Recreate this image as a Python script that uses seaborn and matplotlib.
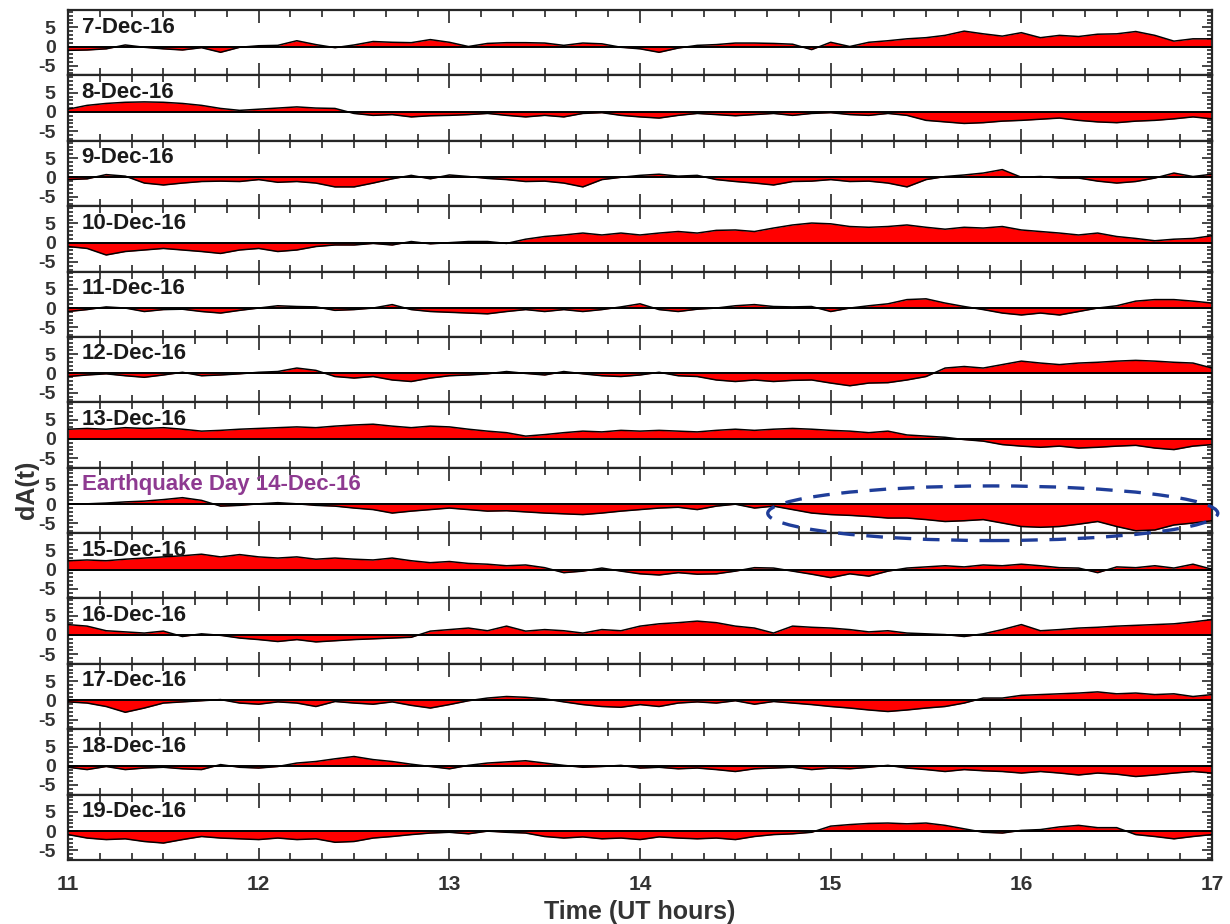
import numpy as np
import pandas as pd
import matplotlib
matplotlib.use("Agg")
import matplotlib.pyplot as plt
from matplotlib.ticker import MultipleLocator
from matplotlib.patches import Ellipse
import seaborn as sns

# ---------------- data (0.1 h sampling) ----------------
hours = np.linspace(11, 17, 61)

day_labels = ["7-Dec-16", "8-Dec-16", "9-Dec-16", "10-Dec-16", "11-Dec-16",
              "12-Dec-16", "13-Dec-16", "Earthquake Day 14-Dec-16", "15-Dec-16",
              "16-Dec-16", "17-Dec-16", "18-Dec-16", "19-Dec-16"]

dec07 = [-1.0, -0.9, -0.6, 0.4, -0.2, -0.6, -0.9, -0.3, -1.5, -0.2,
         0.2, 0.3, 1.5, 0.5, -0.3, 0.4, 1.3, 1.1, 1.0, 1.8,
         1.1, 0.0, 0.8, 1.0, 1.0, 0.9, 0.3, 0.9, 0.7, -0.2,
         -0.6, -1.5, -0.4, 0.3, 0.5, 0.9, 0.9, 0.8, 0.6, -0.8,
         1.1, 0.0, 1.1, 1.5, 2.0, 2.3, 2.9, 4.0, 3.3, 2.7,
         3.6, 2.3, 2.9, 2.6, 3.2, 3.3, 3.9, 2.9, 1.4, 2.0, 2.0]
dec08 = [0.7, 1.7, 2.2, 2.5, 2.6, 2.5, 2.2, 1.7, 0.9, 0.4,
         0.7, 1.0, 1.3, 1.0, 0.9, -0.4, -0.9, -0.7, -1.3, -1.0,
         -0.9, -0.7, -0.4, -0.9, -1.3, -0.9, -1.3, -0.4, -0.2, -0.9,
         -1.3, -1.6, -0.9, -0.4, -0.7, -1.0, -0.7, -0.4, -0.9, -0.4,
         -0.2, -0.7, -0.9, -0.4, -0.9, -2.2, -2.6, -3.0, -2.8, -2.4,
         -2.2, -1.9, -1.6, -2.2, -2.6, -2.8, -2.4, -2.2, -1.8, -1.3, -1.8]
dec09 = [-0.6, -0.4, 0.7, 0.3, -1.5, -2.0, -1.5, -1.1, -1.0, -1.1,
         -0.6, -1.3, -1.1, -1.5, -2.5, -2.5, -1.5, -0.4, 0.5, -0.4,
         0.6, 0.2, -0.3, -0.6, -1.1, -1.0, -1.5, -2.5, -0.6, 0.0,
         0.5, 0.8, 0.3, 0.5, -0.6, -1.1, -1.5, -2.0, -1.1, -1.0,
         -0.6, -1.1, -1.0, -1.5, -2.5, -0.6, 0.2, 0.6, 1.1, 2.0,
         0.0, 0.2, -0.2, -0.2, -1.0, -1.5, -1.1, -0.2, 1.1, 0.2, 0.8]
dec10 = [-1.0, -1.5, -3.2, -2.3, -1.9, -1.5, -1.9, -2.3, -2.8, -1.9,
         -1.5, -2.3, -1.9, -1.0, -0.6, -0.6, -0.2, -0.6, 0.3, -0.3,
         0.0, 0.3, 0.3, -0.2, 0.9, 1.6, 2.0, 2.5, 2.0, 2.5,
         2.0, 2.5, 2.9, 2.5, 3.2, 3.3, 2.9, 3.8, 4.6, 5.1,
         4.9, 4.2, 4.0, 4.2, 4.6, 4.0, 3.5, 4.0, 3.8, 4.2,
         3.3, 2.9, 2.5, 2.0, 2.5, 1.6, 1.1, 0.5, 0.9, 1.1, 1.8]
dec11 = [-0.9, -0.4, 0.3, 0.0, -0.9, -0.4, -0.3, -0.9, -1.3, -0.6,
         0.0, 0.6, 0.4, 0.3, -0.6, -0.4, 0.0, 0.9, -0.4, -0.9,
         -1.1, -1.3, -1.5, -0.9, -0.4, -0.9, -0.4, -0.9, -0.4, 0.3,
         1.1, -0.4, -0.9, -0.3, 0.0, 0.6, 0.9, 0.4, 0.3, 0.4,
         -0.9, 0.0, 0.6, 1.1, 2.2, 2.4, 1.3, 0.4, -0.4, -1.3,
         -1.8, -1.3, -1.8, -0.9, 0.0, 0.6, 1.8, 2.2, 2.2, 1.8, 1.3]
dec12 = [-0.8, -0.4, -0.1, -0.6, -1.0, -0.4, 0.3, -0.6, -0.4, -0.1,
         0.3, 0.5, 1.4, 0.8, -0.8, -1.2, -0.8, -1.7, -2.1, -1.2,
         -0.6, -0.4, -0.1, 0.5, 0.0, -0.4, 0.5, -0.1, -0.6, -0.8,
         -0.4, 0.3, -0.6, -0.8, -1.7, -2.1, -1.7, -2.1, -1.8, -1.7,
         -2.5, -3.2, -2.5, -2.4, -1.7, -0.8, 1.4, 1.8, 1.4, 2.3,
         3.2, 2.7, 2.3, 2.7, 2.9, 3.2, 3.4, 3.2, 2.9, 2.7, 1.4]
dec13 = [2.5, 2.7, 2.5, 2.9, 2.7, 2.9, 2.5, 2.0, 2.2, 2.5,
         2.7, 2.9, 3.1, 2.9, 3.3, 3.6, 3.8, 3.3, 2.9, 3.3,
         3.1, 2.5, 2.0, 1.6, 0.7, 1.1, 1.6, 2.0, 1.8, 2.2,
         2.0, 2.2, 2.0, 1.8, 2.2, 2.5, 2.2, 2.5, 2.7, 2.5,
         2.2, 2.0, 1.6, 2.0, 1.0, 0.7, 0.4, -0.2, -0.6, -1.5,
         -1.9, -2.2, -1.9, -2.4, -2.2, -1.9, -1.7, -2.4, -2.8, -1.9, -1.5]
dec14 = [0.0, 0.1, 0.3, 0.6, 0.8, 1.2, 1.7, 1.0, -0.5, -0.3,
         0.1, 0.4, 0.1, -0.3, -0.5, -1.0, -1.4, -2.3, -1.8, -1.4,
         -1.0, -1.4, -1.8, -1.7, -2.0, -2.3, -2.5, -2.7, -2.3, -1.8,
         -1.4, -1.0, -0.8, -1.4, -0.5, 0.0, -1.0, -0.5, -1.4, -2.3,
         -2.7, -2.9, -3.2, -3.6, -3.6, -4.0, -4.5, -4.3, -4.0, -4.9,
         -5.8, -6.0, -5.8, -5.2, -4.5, -5.8, -6.9, -6.7, -5.4, -4.9, -4.3]
dec15 = [2.3, 2.5, 2.3, 2.7, 3.0, 3.3, 3.6, 4.0, 3.3, 3.9,
         3.3, 3.0, 3.3, 2.7, 3.0, 2.7, 2.5, 3.0, 2.3, 1.8,
         2.1, 1.6, 1.4, 1.0, 1.2, 0.5, -0.8, -0.4, 0.4, -0.4,
         -1.1, -1.4, -0.8, -1.2, -1.1, -0.4, 0.5, 0.4, -0.4, -1.2,
         -2.1, -1.1, -1.7, -0.4, 0.4, 0.7, 1.0, 0.7, 1.2, 1.0,
         1.4, 1.0, 0.5, 0.4, -0.8, 0.7, 0.5, 1.0, 0.4, 1.4, 0.1]
dec16 = [2.7, 2.3, 1.1, 0.8, 0.5, 1.0, -0.4, 0.3, -0.1, -0.8,
         -1.2, -1.7, -1.2, -1.8, -1.5, -1.2, -1.0, -0.8, -0.6, 1.0,
         1.4, 1.8, 1.1, 2.3, 1.0, 1.4, 1.1, 0.5, 1.4, 1.1,
         2.3, 2.9, 3.2, 3.6, 3.2, 2.3, 1.8, 0.5, 2.3, 2.0,
         1.8, 1.4, 0.8, 1.1, 0.5, 0.3, 0.1, -0.4, 0.3, 1.4,
         2.7, 1.1, 1.4, 1.8, 2.0, 2.3, 2.5, 2.7, 2.9, 3.4, 4.0]
dec17 = [-0.4, -0.7, -1.6, -3.1, -2.0, -0.7, -0.4, -0.1, 0.2, -0.7,
         -1.0, -0.4, -0.7, -1.6, -0.3, -0.7, -1.0, -0.4, -1.3, -2.0,
         -1.1, -0.1, 0.6, 1.0, 0.8, 0.4, -0.4, -1.1, -1.6, -1.8,
         -1.1, -1.6, -0.7, -0.4, -0.7, -0.1, -1.0, -0.3, -0.7, -1.1,
         -1.6, -2.0, -2.5, -2.9, -2.5, -2.0, -1.6, -0.7, 0.6, 0.6,
         1.3, 1.5, 1.7, 1.9, 2.2, 1.7, 1.9, 1.5, 1.7, 1.0, 1.5]
dec18 = [-0.4, -1.0, -0.2, -1.0, -0.6, -0.4, -0.8, -1.0, 0.3, -0.4,
         -0.6, -0.2, 0.7, 1.1, 1.8, 2.4, 1.6, 1.1, 0.4, -0.2,
         -0.8, 0.1, 0.7, 1.0, 1.3, 0.7, 0.1, -0.4, -0.2, 0.1,
         -0.6, -0.4, -0.8, -0.6, -1.0, -1.5, -0.8, -0.6, -0.4, -1.0,
         -0.6, -0.8, -0.4, 0.1, -0.6, -1.0, -1.5, -1.0, -1.3, -1.5,
         -1.9, -1.5, -1.9, -2.4, -1.9, -2.2, -2.8, -2.4, -1.9, -1.5, -1.9]
dec19 = [-0.9, -1.8, -2.2, -2.0, -2.7, -3.1, -2.2, -1.4, -1.8, -2.0,
         -2.2, -1.8, -2.2, -2.0, -2.9, -2.7, -1.8, -1.4, -0.9, -0.5,
         -0.3, -0.7, 0.0, -0.3, -0.5, -1.4, -1.8, -1.5, -2.0, -1.8,
         -2.2, -1.5, -1.8, -2.0, -1.8, -2.2, -1.4, -0.9, -0.7, -0.3,
         1.3, 1.7, 2.0, 2.1, 1.9, 2.1, 1.5, 0.6, -0.3, -0.5,
         0.2, 0.4, 1.1, 1.5, 0.9, 0.9, -0.9, -1.4, -2.0, -1.4, -0.9]

series = [dec07, dec08, dec09, dec10, dec11, dec12, dec13,
          dec14, dec15, dec16, dec17, dec18, dec19]

x_ticks = [11, 12, 13, 14, 15, 16, 17]
y_ticks = [-5, 0, 5]

# highlighted region on the earthquake day (hours / dA units)
ell_center = (15.85, -2.35)
ell_size = (2.36, 14.2)

# ---------------- style ----------------
sns.set_theme(style="ticks")
plt.rcParams["font.family"] = ["Liberation Sans", "DejaVu Sans"]
plt.rcParams["font.weight"] = "bold"

FILL = "#ff0000"
TXT = "#333333"
SPINE = "#262626"

fig = plt.figure(figsize=(12.3, 9.24), dpi=100)
gs = fig.add_gridspec(13, 1, left=0.0553, right=0.9854, top=0.9892,
                      bottom=0.0693, hspace=0)

axes = []
for i, (lab, vals) in enumerate(zip(day_labels, series)):
    ax = fig.add_subplot(gs[i])
    axes.append(ax)
    df = pd.DataFrame({"t": hours, "dA": vals})
    ax.fill_between(df["t"], 0, df["dA"], color=FILL, interpolate=True,
                    linewidth=0, zorder=2)
    sns.lineplot(data=df, x="t", y="dA", ax=ax, color="black", lw=1.1,
                 zorder=3, legend=False)
    ax.axhline(0, color="black", lw=1.4, zorder=3)
    ax.set_xlim(11, 17)
    ax.set_ylim(-7.5, 9.5)
    ax.set_xticks(x_ticks)
    ax.set_yticks(y_ticks)
    ax.xaxis.set_minor_locator(MultipleLocator(1 / 6))
    ax.yaxis.set_minor_locator(MultipleLocator(1))
    ax.tick_params(which="both", direction="in", top=True, right=True,
                   color=SPINE, width=1.2)
    ax.tick_params(which="major", axis="x", length=9)
    ax.tick_params(which="minor", axis="x", length=5)
    ax.tick_params(which="major", axis="y", length=7)
    ax.tick_params(which="minor", axis="y", length=3.5)
    ax.tick_params(axis="y", labelsize=14, labelcolor=TXT, pad=9)
    ax.tick_params(axis="x", labelsize=15, labelcolor=TXT, pad=11)
    ax.set_yticklabels([str(v) for v in y_ticks], fontweight="bold")
    for s in ax.spines.values():
        s.set_linewidth(1.6)
        s.set_color(SPINE)
    ax.set_xlabel("")
    ax.set_ylabel("")
    color = "#8e3a91" if lab.startswith("Earthquake") else "#1a1a1a"
    ax.text(0.012, 0.90, lab, transform=ax.transAxes, ha="left", va="top",
            fontsize=16, fontweight="bold", color=color, zorder=6)
    if i < len(series) - 1:
        ax.tick_params(axis="x", labelbottom=False)
    else:
        ax.set_xticklabels([str(v) for v in x_ticks], fontweight="bold")

# ellipse highlighting the anomaly on the earthquake day
eq_ax = axes[7]
ell = Ellipse(ell_center, ell_size[0], ell_size[1], transform=eq_ax.transData,
              fill=False, edgecolor="#1f3d99", lw=2.4, linestyle=(0, (5, 3.5)),
              zorder=10, clip_on=False)
fig.add_artist(ell)

axes[-1].set_xlabel("Time (UT hours)", fontsize=18, fontweight="bold",
                    color=TXT, labelpad=4)
fig.text(0.022, 0.47, "dA(t)", rotation=90, ha="center", va="center",
         fontsize=18, fontweight="bold", color=TXT)

fig.savefig("out.png", dpi=100)
